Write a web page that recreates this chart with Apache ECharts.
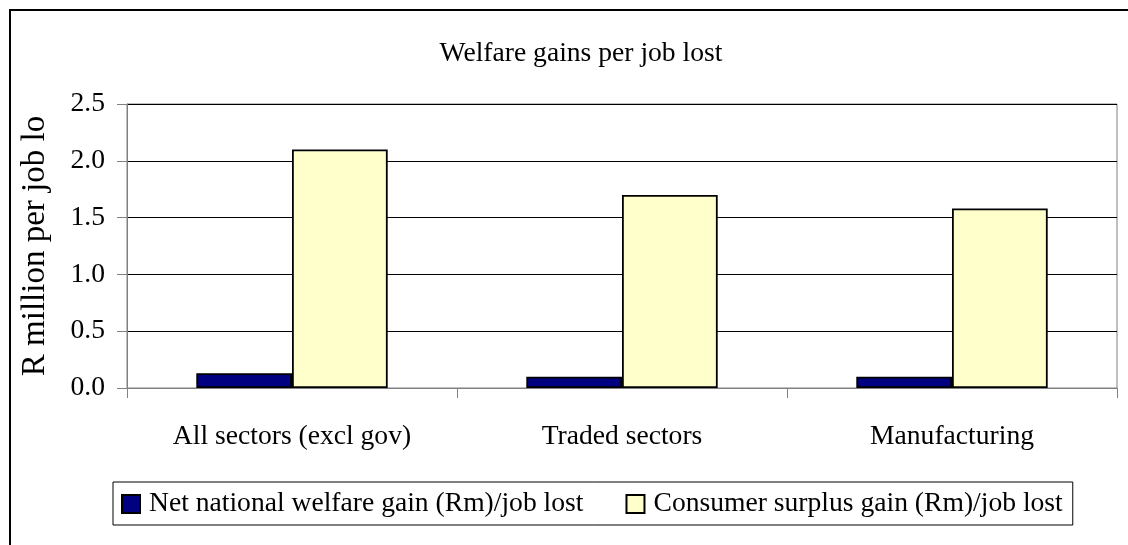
<!DOCTYPE html>
<html>
<head>
<meta charset="utf-8">
<script src="https://cdn.jsdelivr.net/npm/echarts@6/dist/echarts.min.js"></script>
<style>html,body{margin:0;padding:0;background:#fff;}#c{width:1128px;height:545px;}</style>
</head>
<body>
<div id="c"></div>
<script>
var categories = ['All sectors (excl gov)', 'Traded sectors', 'Manufacturing'];
var netWelfare = [0.13, 0.10, 0.10];
var consumerSurplus = [2.1, 1.70, 1.58];
var seriesNames = ['Net national welfare gain (Rm)/job lost', 'Consumer surplus gain (Rm)/job lost'];
var titleText = 'Welfare gains per job lost';
var yAxisName = 'R million per job lo';

var FONT = 'Liberation Serif, Times New Roman, serif';
var FS = 27.6;
var chart = echarts.init(document.getElementById('c'), null, {renderer: 'canvas'});
chart.setOption({
  animation: false,
  backgroundColor: '#fff',
  title: {
    text: titleText,
    left: 576, textAlign: 'center',
    top: 35,
    textStyle: {fontFamily: FONT, fontSize: FS, fontWeight: 'normal', color: '#000'}
  },
  graphic: [{
    type: 'rect', silent: true, z: 100,
    shape: {x: 10, y: 10, width: 1200, height: 600},
    style: {fill: 'none', stroke: '#000', lineWidth: 2}
  }],
  legend: {
    data: seriesNames,
    left: 113, top: 482,
    orient: 'horizontal',
    padding: [8, 10, 7, 8],
    itemGap: 42,
    itemWidth: 18, itemHeight: 18,
    borderColor: '#000', borderWidth: 1,
    icon: 'rect',
    textStyle: {fontFamily: FONT, fontSize: FS, color: '#000', padding: [0, 0, 0, 4]}
  },
  grid: {
    left: 127, top: 104, right: 11, bottom: 157,
    show: true, borderColor: '#808080', borderWidth: 1, backgroundColor: 'transparent'
  },
  xAxis: {
    type: 'category',
    data: categories,
    axisLine: {lineStyle: {color: '#808080', width: 1}},
    axisTick: {show: true, length: 10, lineStyle: {color: '#808080'}},
    axisLabel: {fontFamily: FONT, fontSize: FS, color: '#000', margin: 35},
    splitLine: {show: false}
  },
  yAxis: {
    type: 'value',
    min: 0, max: 2.5, interval: 0.5,
    name: yAxisName,
    nameLocation: 'middle',
    nameGap: 75,
    nameTextStyle: {fontFamily: FONT, fontSize: 33, color: '#000'},
    axisLine: {show: true, lineStyle: {color: '#808080', width: 1}},
    axisTick: {show: true, length: 10, lineStyle: {color: '#808080'}},
    axisLabel: {fontFamily: FONT, fontSize: FS, color: '#000', margin: 22,
      formatter: function (v) { return v.toFixed(1); }},
    splitLine: {show: true, lineStyle: {color: '#000', width: 1}}
  },
  series: [
    {
      name: seriesNames[0], type: 'bar', data: netWelfare,
      barGap: '0%', barCategoryGap: '42%',
      itemStyle: {color: '#000080', borderColor: '#000', borderWidth: 1.8}
    },
    {
      name: seriesNames[1], type: 'bar', data: consumerSurplus,
      barGap: '0%', barCategoryGap: '42%',
      itemStyle: {color: '#FFFFCC', borderColor: '#000', borderWidth: 1.8}
    }
  ]
});
</script>
</body>
</html>
